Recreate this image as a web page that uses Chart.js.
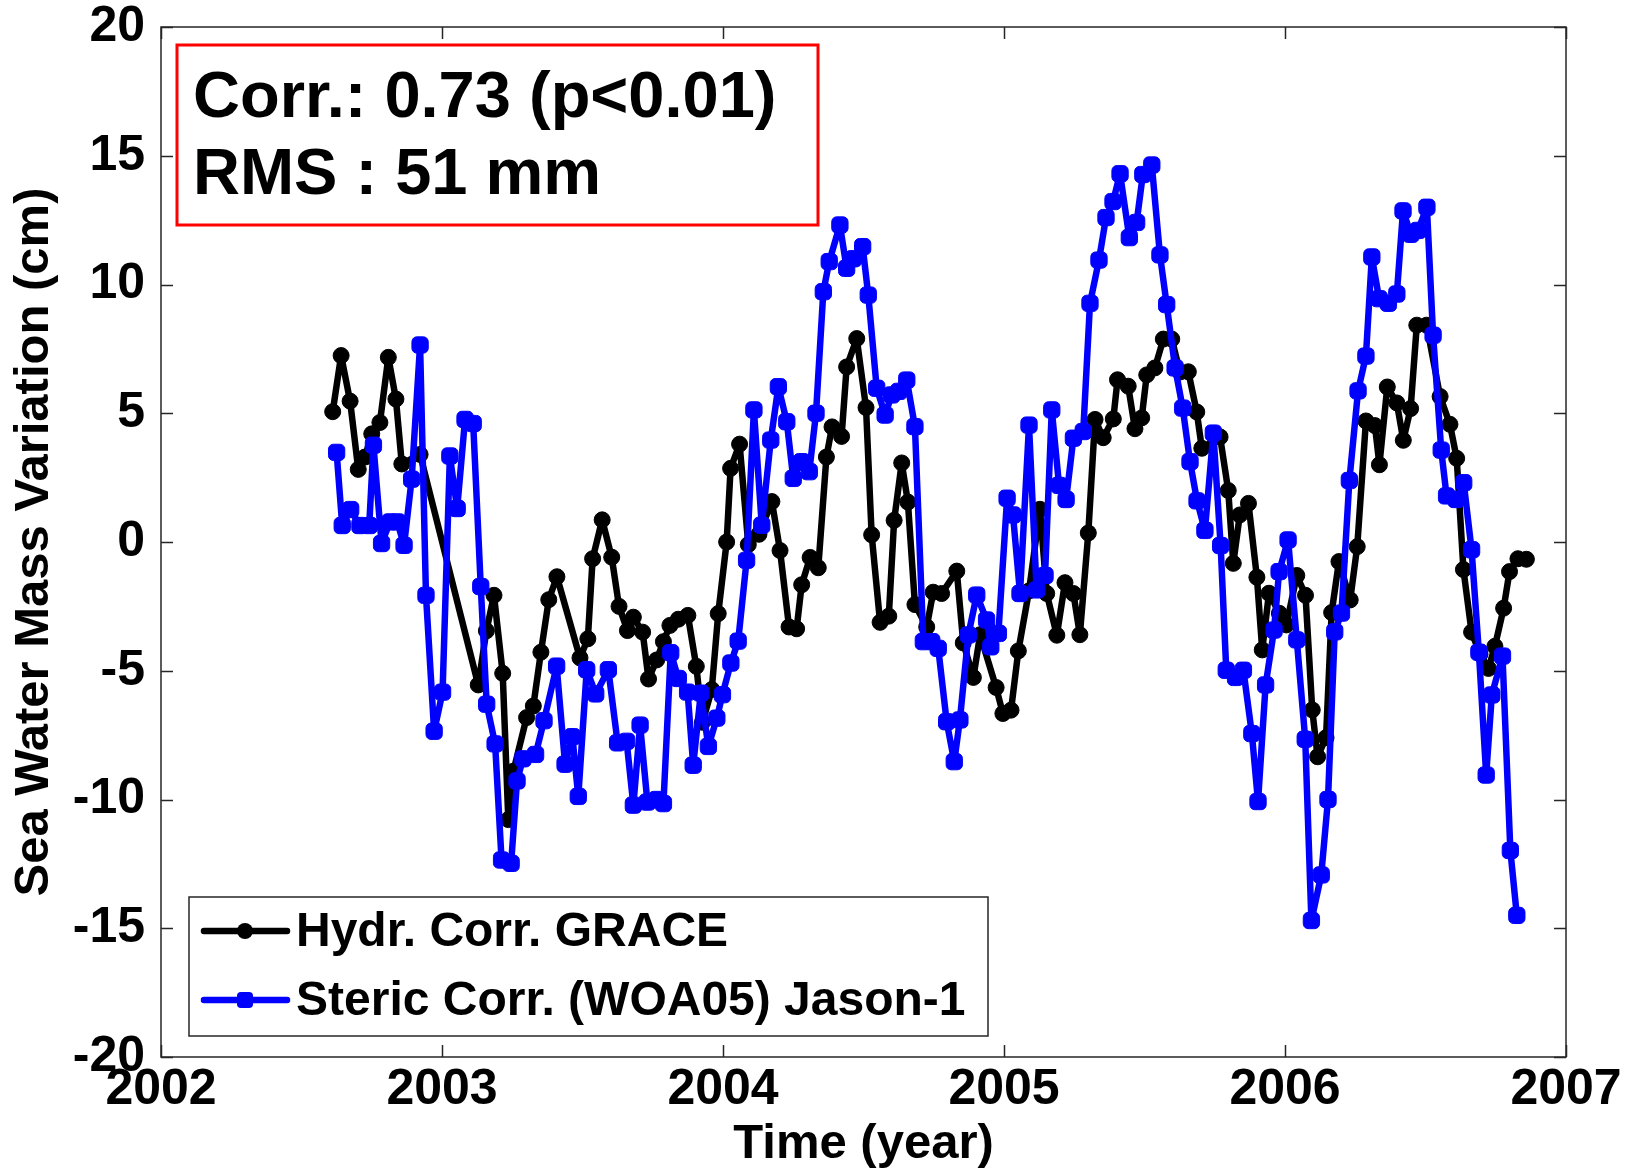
<!DOCTYPE html>
<html>
<head>
<meta charset="utf-8">
<title>Sea Water Mass Variation</title>
<script src="https://cdn.jsdelivr.net/npm/chart.js@4.4.1/dist/chart.umd.min.js"></script>
<style>
  html, body { margin: 0; padding: 0; background: #fff; }
  canvas { display: block; }
</style>
</head>
<body>
<canvas id="massChart" width="1641" height="1171"></canvas>
<script>
// tick labels
const xTicks = [2002, 2003, 2004, 2005, 2006, 2007];
const yTicks = [-20, -15, -10, -5, 0, 5, 10, 15, 20];

// Hydr. Corr. GRACE (black)
const graceYears = [
  2002.611, 2002.641, 2002.673, 2002.702, 2002.726, 2002.750, 2002.779, 2002.809, 2002.836, 2002.857, 2002.922,
  2003.129, 2003.158, 2003.185, 2003.216, 2003.236, 2003.254, 2003.301, 2003.325, 2003.352, 2003.380, 2003.409,
  2003.491, 2003.519, 2003.536, 2003.570, 2003.604, 2003.630, 2003.660, 2003.681, 2003.714, 2003.735, 2003.764,
  2003.788, 2003.811, 2003.841, 2003.875, 2003.905, 2003.927, 2003.960, 2003.983, 2004.013, 2004.027, 2004.059,
  2004.090, 2004.128, 2004.174, 2004.203, 2004.235, 2004.262, 2004.280, 2004.310, 2004.339, 2004.368, 2004.388,
  2004.422, 2004.440, 2004.476, 2004.509, 2004.529, 2004.559, 2004.590, 2004.609, 2004.636, 2004.658, 2004.683,
  2004.725, 2004.748, 2004.778, 2004.832, 2004.855, 2004.891, 2004.915, 2004.972, 2004.996, 2005.025, 2005.051,
  2005.089, 2005.128, 2005.152, 2005.188, 2005.217, 2005.247, 2005.270, 2005.300, 2005.324, 2005.353, 2005.389,
  2005.404, 2005.442, 2005.466, 2005.490, 2005.508, 2005.537, 2005.567, 2005.597, 2005.626, 2005.656, 2005.686,
  2005.704, 2005.769, 2005.798, 2005.816, 2005.839, 2005.870, 2005.900, 2005.919, 2005.943, 2005.980, 2006.005,
  2006.042, 2006.073, 2006.097, 2006.116, 2006.146, 2006.166, 2006.192, 2006.232, 2006.257, 2006.288, 2006.320,
  2006.336, 2006.364, 2006.398, 2006.421, 2006.447, 2006.469, 2006.504, 2006.552, 2006.587, 2006.611, 2006.635,
  2006.664, 2006.694, 2006.724, 2006.747, 2006.778, 2006.799, 2006.829, 2006.859
];
const graceValues = [
  5.06, 7.24, 5.47, 2.82, 3.3, 4.2, 4.64, 7.17, 5.55, 3.03, 3.4,
  -5.55, -3.45, -2.07, -5.1, -10.78, -8.9, -6.82, -6.37, -4.28, -2.24, -1.35,
  -4.5, -3.76, -0.65, 0.86, -0.59, -2.5, -3.44, -2.92, -3.5, -5.32, -4.58,
  -3.87, -3.24, -3.0, -2.85, -4.83, -7.0, -5.73, -2.78, 0.0, 2.86, 3.8,
  -0.1, 0.3, 1.57, -0.33, -3.3, -3.37, -1.66, -0.6, -1.0, 3.3, 4.47,
  4.1, 6.8, 7.9, 5.22, 0.28, -3.12, -2.88, 0.84, 3.07, 1.55, -2.43,
  -3.3, -1.95, -2.0, -1.13, -3.92, -5.26, -3.6, -5.65, -6.66, -6.53, -4.23,
  -1.9, 1.27, -2.0, -3.62, -1.58, -2.0, -3.6, 0.35, 4.76, 4.05, 4.78,
  6.3, 6.05, 4.4, 4.82, 6.49, 6.76, 7.88, 7.88, 6.6, 6.61, 5.05,
  3.64, 4.08, 2.0, -0.83, 1.05, 1.5, -1.37, -4.19, -1.99, -2.77, -3.22,
  -1.3, -2.07, -6.52, -8.34, -7.6, -2.74, -0.76, -2.25, -0.18, 4.7, 4.52,
  3.0, 6.02, 5.4, 3.95, 5.18, 8.42, 8.42, 5.65, 4.57, 3.25, -1.07,
  -3.5, -4.35, -4.91, -4.05, -2.57, -1.15, -0.65, -0.67
];

// Steric Corr. (WOA05) Jason-1 (blue)
const jasonYears = [
  2002.625, 2002.645, 2002.675, 2002.708, 2002.741, 2002.756, 2002.785, 2002.815, 2002.841, 2002.865, 2002.892,
  2002.922, 2002.943, 2002.972, 2003.002, 2003.028, 2003.054, 2003.082, 2003.111, 2003.138, 2003.159, 2003.189,
  2003.212, 2003.246, 2003.267, 2003.288, 2003.333, 2003.363, 2003.408, 2003.438, 2003.464, 2003.485, 2003.515,
  2003.547, 2003.592, 2003.625, 2003.657, 2003.681, 2003.705, 2003.731, 2003.764, 2003.788, 2003.814, 2003.841,
  2003.874, 2003.894, 2003.921, 2003.948, 2003.978, 2003.998, 2004.028, 2004.054, 2004.084, 2004.110, 2004.138,
  2004.170, 2004.197, 2004.227, 2004.250, 2004.280, 2004.307, 2004.331, 2004.357, 2004.378, 2004.416, 2004.440,
  2004.464, 2004.497, 2004.517, 2004.547, 2004.577, 2004.600, 2004.626, 2004.654, 2004.683, 2004.713, 2004.743,
  2004.766, 2004.796, 2004.823, 2004.843, 2004.873, 2004.903, 2004.938, 2004.953, 2004.980, 2005.011, 2005.032,
  2005.057, 2005.089, 2005.116, 2005.146, 2005.170, 2005.196, 2005.221, 2005.247, 2005.282, 2005.306, 2005.338,
  2005.363, 2005.388, 2005.413, 2005.446, 2005.472, 2005.494, 2005.526, 2005.555, 2005.579, 2005.609, 2005.636,
  2005.662, 2005.687, 2005.715, 2005.745, 2005.771, 2005.791, 2005.824, 2005.852, 2005.882, 2005.904, 2005.931,
  2005.961, 2005.979, 2006.011, 2006.042, 2006.072, 2006.094, 2006.129, 2006.153, 2006.177, 2006.201, 2006.229,
  2006.260, 2006.288, 2006.309, 2006.335, 2006.368, 2006.398, 2006.420, 2006.448, 2006.473, 2006.505, 2006.527,
  2006.556, 2006.575, 2006.609, 2006.636, 2006.664, 2006.690, 2006.716, 2006.736, 2006.774, 2006.802, 2006.825
];
const jasonValues = [
  3.48, 0.64, 1.26, 0.64, 0.64, 3.76, -0.06, 0.78, 0.78, -0.13, 2.44,
  7.65, -2.07, -7.35, -5.83, 3.34, 1.3, 4.76, 4.6, -1.73, -6.3, -7.84,
  -12.35, -12.48, -9.28, -8.42, -8.25, -6.94, -4.82, -8.63, -7.56, -9.88, -4.96,
  -5.9, -4.96, -7.8, -7.74, -10.22, -7.11, -10.1, -10.0, -10.16, -4.3, -5.3,
  -5.83, -8.67, -5.87, -7.94, -6.84, -5.93, -4.7, -3.85, -0.71, 5.13, 0.65,
  3.96, 6.03, 4.67, 2.47, 3.12, 2.73, 5.0, 9.72, 10.89, 12.31, 10.63,
  11.0, 11.47, 9.59, 5.97, 4.93, 5.71, 5.85, 6.29, 4.48, -3.87, -3.87,
  -4.13, -6.98, -8.53, -6.91, -3.61, -2.06, -3.03, -4.07, -3.55, 1.7, 1.05,
  -2.0, 4.54, -1.86, -1.3, 5.13, 2.2, 1.65, 4.03, 4.29, 9.27, 10.95,
  12.6, 13.22, 14.3, 11.82, 12.41, 14.27, 14.64, 11.15, 9.22, 6.76, 5.2,
  3.12, 1.6, 0.45, 4.23, -0.14, -4.98, -5.26, -4.98, -7.44, -10.08, -5.55,
  -3.42, -1.15, 0.08, -3.8, -7.66, -14.7, -12.93, -10.0, -3.49, -2.76, 2.39,
  5.87, 7.22, 11.07, 9.45, 9.27, 9.63, 12.86, 11.95, 12.1, 13.0, 8.03,
  3.57, 1.79, 1.65, 2.3, -0.3, -4.28, -9.05, -5.94, -4.43, -11.98, -14.5
];

const seriesLabels = ["Hydr. Corr. GRACE", "Steric Corr. (WOA05) Jason-1"];
const statLines = ["Corr.: 0.73 (p<0.01)", "RMS : 51 mm"];

const FONT = "'Liberation Sans', Arial, Helvetica, sans-serif";
const toPoints = (xs, ys) => xs.map((x, i) => ({ x: x, y: ys[i] }));

// frame with inward ticks on all four sides
const framePlugin = {
  id: "frame",
  afterDraw(chart) {
    const ctx = chart.ctx, a = chart.chartArea;
    const sx = chart.scales.x, sy = chart.scales.y;
    const len = 12;
    ctx.save();
    ctx.strokeStyle = "#262626";
    ctx.lineWidth = 1.5;
    ctx.strokeRect(a.left, a.top, a.right - a.left, a.bottom - a.top);
    ctx.beginPath();
    xTicks.forEach(v => {
      const px = Math.round(sx.getPixelForValue(v)) + 0.5;
      ctx.moveTo(px, a.bottom); ctx.lineTo(px, a.bottom - len);
      ctx.moveTo(px, a.top); ctx.lineTo(px, a.top + len);
    });
    yTicks.forEach(v => {
      const py = Math.round(sy.getPixelForValue(v)) + 0.5;
      ctx.moveTo(a.left, py); ctx.lineTo(a.left + len, py);
      ctx.moveTo(a.right, py); ctx.lineTo(a.right - len, py);
    });
    ctx.stroke();
    ctx.restore();
  }
};

// stats box (red) and legend box
const boxesPlugin = {
  id: "boxes",
  afterDraw(chart) {
    const ctx = chart.ctx;
    ctx.save();
    // stats box
    ctx.strokeStyle = "#ff0000";
    ctx.lineWidth = 3;
    ctx.strokeRect(177, 45, 641, 180);
    ctx.fillStyle = "#000";
    ctx.font = "bold 65px " + FONT;
    ctx.textBaseline = "alphabetic";
    ctx.textAlign = "left";
    ctx.fillText(statLines[0], 193, 117);
    ctx.fillText(statLines[1], 193, 194);

    // legend
    const lx = 189, ly = 897, lw = 799, lh = 139;
    ctx.fillStyle = "#fff";
    ctx.fillRect(lx, ly, lw, lh);
    ctx.strokeStyle = "#262626";
    ctx.lineWidth = 1.5;
    ctx.strokeRect(lx, ly, lw, lh);
    const rows = [931, 1000];
    chart.data.datasets.forEach((ds, i) => {
      const y = rows[i];
      ctx.strokeStyle = ds.borderColor;
      ctx.lineWidth = ds.borderWidth;
      ctx.lineCap = "round";
      ctx.beginPath();
      ctx.moveTo(204, y); ctx.lineTo(287, y);
      ctx.stroke();
      ctx.fillStyle = ds.borderColor;
      ctx.beginPath();
      if (ds.pointStyle === "circle") {
        ctx.arc(245, y, ds.pointRadius, 0, Math.PI * 2);
      } else {
        ctx.roundRect(245 - 8, y - 8, 16, 16, 4);
      }
      ctx.fill();
      ctx.fillStyle = "#000";
      ctx.font = "bold 48px " + FONT;
      ctx.textBaseline = "middle";
      ctx.fillText(ds.label, 296, y + 2);
    });
    ctx.restore();
  }
};

new Chart(document.getElementById("massChart"), {
  type: "line",
  data: {
    datasets: [{
      label: seriesLabels[0],
      data: toPoints(graceYears, graceValues),
      borderColor: "#000000",
      backgroundColor: "#000000",
      borderWidth: 6.5,
      borderJoinStyle: "round",
      borderCapStyle: "round",
      pointStyle: "circle",
      pointRadius: 8,
      pointBorderWidth: 1,
      tension: 0,
      order: 2
    }, {
      label: seriesLabels[1],
      data: toPoints(jasonYears, jasonValues),
      borderColor: "#0000ff",
      backgroundColor: "#0000ff",
      borderWidth: 6.5,
      borderJoinStyle: "round",
      borderCapStyle: "round",
      pointStyle: "rectRounded",
      pointRadius: 9.5,
      pointBorderWidth: 1,
      tension: 0,
      order: 1
    }]
  },
  options: {
    responsive: false,
    animation: false,
    devicePixelRatio: 1,
    layout: { padding: { top: 27, right: 75, left: 0, bottom: 0 } },
    plugins: {
      legend: { display: false },
      tooltip: { enabled: false }
    },
    scales: {
      x: {
        type: "linear",
        min: 2002,
        max: 2007,
        afterBuildTicks: axis => { axis.ticks = xTicks.map(v => ({ value: v })); },
        afterFit: scale => { scale.height = 114; },
        grid: { display: false },
        border: { display: false },
        ticks: {
          color: "#000",
          padding: 0,
          maxRotation: 0,
          font: { family: FONT, size: 50, weight: "bold", lineHeight: 1 },
          callback: v => String(v)
        },
        title: {
          display: true,
          text: "Time (year)",
          color: "#000",
          font: { family: FONT, size: 49, weight: "bold", lineHeight: 1.1 },
          padding: { top: 0, bottom: 0 }
        }
      },
      y: {
        type: "linear",
        min: -20,
        max: 20,
        afterBuildTicks: axis => { axis.ticks = yTicks.map(v => ({ value: v })); },
        afterFit: scale => { scale.width = 161; },
        grid: { display: false },
        border: { display: false },
        ticks: {
          color: "#000",
          padding: 8,
          font: { family: FONT, size: 50, weight: "bold", lineHeight: 0.7 },
          callback: v => String(v)
        },
        title: {
          display: true,
          text: "Sea Water Mass Variation (cm)",
          color: "#000",
          font: { family: FONT, size: 49, weight: "bold", lineHeight: 1.1 },
          padding: { top: 8, bottom: 0 }
        }
      }
    }
  },
  plugins: [framePlugin, boxesPlugin]
});
</script>
</body>
</html>
